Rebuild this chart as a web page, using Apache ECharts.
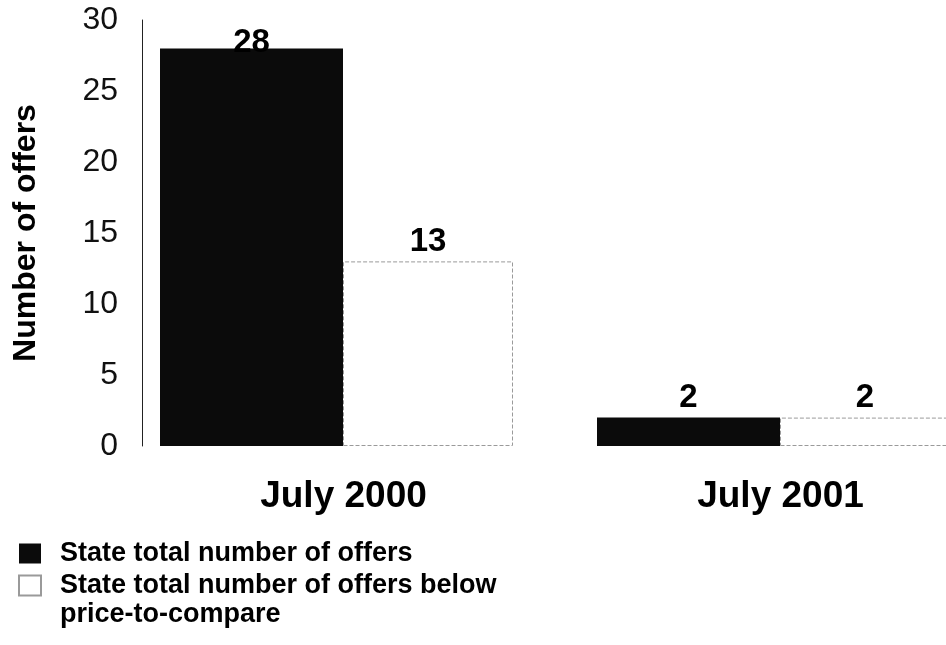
<!DOCTYPE html>
<html>
    <head>
        <meta charset="utf-8">
        <title>Number of offers</title>
        <script src="https://cdn.jsdelivr.net/npm/echarts@6/dist/echarts.min.js"></script>
        <style>
            html, body { margin: 0; padding: 0; background: #fff; }
            #chart1 { width: 946px; height: 645px; }
        </style>
    </head>
    <body>
        <div id="chart1"></div>
        <script type="text/javascript">
            // data
            var categories = ['July 2000', 'July 2001'];
            var totalOffers = [28, 2];
            var belowPtc = [13, 2];
            var seriesNames = ['State total number of offers', 'State total number of offers below price-to-compare'];
            var yTicks = [0, 5, 10, 15, 20, 25, 30];

            var font = 'Liberation Sans, Arial, sans-serif';
            var myChart1 = echarts.init(document.getElementById('chart1'));

            var labelStyle = {
                show: true,
                position: 'top',
                distance: 3,
                color: '#000',
                fontFamily: font,
                fontSize: 33,
                fontWeight: 'bold'
            };

            myChart1.setOption({
                animation: false,
                backgroundColor: '#fff',
                // plot area runs past the right edge of the page, like the picture
                grid: { left: 118, width: 874, top: 20, bottom: 199, outerBoundsMode: 'none' },
                legend: {
                    orient: 'vertical',
                    left: 13,
                    top: 535,
                    itemWidth: 22,
                    itemHeight: 20,
                    itemGap: 5,
                    icon: 'rect',
                    selectedMode: false,
                    data: seriesNames,
                    formatter: function (name) {
                        // second entry wraps; the rest of it is drawn below as a graphic text
                        return name === seriesNames[1] ? 'State total number of offers below' : name;
                    },
                    textStyle: {
                        color: '#000',
                        fontFamily: font,
                        fontSize: 27,
                        fontWeight: 'bold',
                        lineHeight: 26,
                        padding: [0, 0, 0, 14]
                    }
                },
                graphic: [{
                    type: 'text',
                    left: 60,
                    top: 601,
                    style: {
                        text: 'price-to-compare',
                        fill: '#000',
                        font: 'bold 27px ' + font
                    }
                }],
                xAxis: {
                    type: 'category',
                    data: categories,
                    axisLine: { show: false },
                    axisTick: { show: false },
                    axisLabel: {
                        margin: 32,
                        padding: [0, 0, 0, 14],
                        color: '#000',
                        fontFamily: font,
                        fontSize: 37,
                        fontWeight: 'bold'
                    }
                },
                yAxis: {
                    type: 'value',
                    min: yTicks[0],
                    max: yTicks[yTicks.length - 1],
                    interval: 5,
                    offset: -24,
                    name: 'Number of offers',
                    nameLocation: 'middle',
                    nameGap: 100,
                    nameRotate: 90,
                    nameTextStyle: {
                        color: '#000',
                        fontFamily: font,
                        fontSize: 32,
                        fontWeight: 'bold'
                    },
                    axisLine: { show: true, lineStyle: { color: '#222', width: 1 } },
                    axisTick: { show: false },
                    splitLine: { show: false },
                    axisLabel: {
                        margin: 24,
                        color: '#111',
                        fontFamily: font,
                        fontSize: 32
                    }
                },
                series: [{
                    name: seriesNames[0],
                    type: 'bar',
                    barWidth: 183,
                    barGap: '0%',
                    itemStyle: { color: '#0b0b0b' },
                    label: labelStyle,
                    data: totalOffers.map(function (v, i) {
                        // tallest bar: label sits on the bar top in the picture
                        return i === 0 ? { value: v, label: { distance: -11 } } : v;
                    })
                }, {
                    name: seriesNames[1],
                    type: 'bar',
                    barWidth: 170,
                    barGap: '0%',
                    itemStyle: {
                        color: '#fff',
                        borderColor: '#9a9a9a',
                        borderWidth: 1,
                        borderType: 'dashed'
                    },
                    label: labelStyle,
                    data: belowPtc
                }]
            });
        </script>
    </body>
</html>
